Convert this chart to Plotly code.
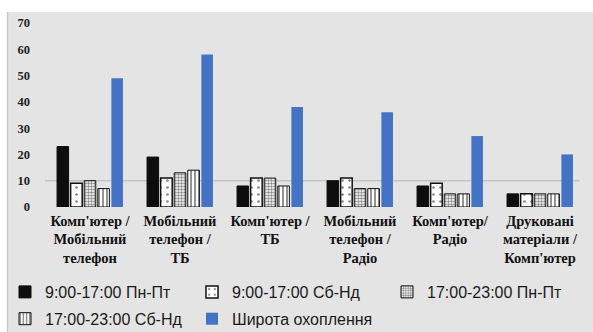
import plotly.graph_objects as go

# Device pairs and share of users for each time slot
categories = [
    "Комп'ютер /<br>Мобільний<br>телефон",
    "Мобільний<br>телефон /<br>ТБ",
    "Комп'ютер /<br>ТБ<br> ",
    "Мобільний<br>телефон /<br>Радіо",
    "Комп'ютер/<br>Радіо<br> ",
    "Друковані<br>матеріали /<br>Комп'ютер",
]
weekday_day = [23, 19, 8, 10, 8, 5]        # 9:00-17:00 Пн-Пт
weekend_day = [9, 11, 11, 11, 9, 5]        # 9:00-17:00 Сб-Нд
weekday_evening = [10, 13, 11, 7, 5, 5]    # 17:00-23:00 Пн-Пт
weekend_evening = [7, 14, 8, 7, 5, 5]      # 17:00-23:00 Сб-Нд
reach = [49, 58, 38, 36, 27, 20]           # Широта охоплення
y_ticks = [0, 10, 20, 30, 40, 50, 60, 70]

W, H = 593, 332
ML, MR, MT, MB = 45, 8, 23, 125
PW, PH = W - ML - MR, H - MT - MB
BG = "#e4e4e4"


def px_x(p):
    return (p - ML) / PW


def px_y(p):
    return (H - MB - p) / PH


fig = go.Figure()
fig.add_trace(go.Bar(
    x=categories, y=weekday_day, name="9:00-17:00 Пн-Пт",
    legend="legend", legendgroup="a",
    marker=dict(color="#0d0d0d", line=dict(color="#0d0d0d", width=1)),
))
fig.add_trace(go.Bar(
    x=categories, y=weekend_day, name="9:00-17:00 Сб-Нд",
    legend="legend2", legendgroup="b",
    marker=dict(color="white", line=dict(color="#111111", width=1.5),
                pattern=dict(shape=".", fgcolor="#111111", bgcolor="white",
                             size=7, solidity=0.12)),
))
fig.add_trace(go.Bar(
    x=categories, y=weekday_evening, name="17:00-23:00 Пн-Пт",
    legend="legend3", legendgroup="c",
    marker=dict(color="white", line=dict(color="#111111", width=1),
                pattern=dict(shape=".", fgcolor="#111111", bgcolor="white",
                             size=3, solidity=0.5)),
))
fig.add_trace(go.Bar(
    x=categories, y=weekend_evening, name="17:00-23:00 Сб-Нд",
    legend="legend", legendgroup="d",
    marker=dict(color="white", line=dict(color="#111111", width=1),
                pattern=dict(shape="|", fgcolor="#111111", bgcolor="white",
                             size=4, solidity=0.45)),
))
fig.add_trace(go.Bar(
    x=categories, y=reach, name="Широта охоплення",
    legend="legend2", legendgroup="e",
    marker=dict(color="#4472c4", line=dict(color="#4472c4", width=0)),
))

shapes = [
    # white strip above the chart area
    dict(type="rect", xref="paper", yref="paper", x0=-0.2, x1=1.2,
         y0=px_y(12), y1=1.5, fillcolor="white", line_width=0, layer="below"),
    # white strip on the left
    dict(type="rect", xref="paper", yref="paper", x0=-0.2, x1=px_x(7),
         y0=-1, y1=1.5, fillcolor="white", line_width=0, layer="below"),
    dict(type="line", xref="paper", yref="paper", x0=px_x(7.5), x1=px_x(7.5),
         y0=-1, y1=px_y(12), line=dict(color="#c9c9c9", width=1.5), layer="below"),
    # reference line at 10
    dict(type="line", xref="paper", yref="y", x0=0, x1=0.99, y0=10, y1=10,
         line=dict(color="#c3c3c3", width=1.5), layer="below"),
]

legend_font = dict(family="Liberation Sans", size=16, color="#1a1a1a")


def column_legend(left_px):
    return dict(
        orientation="v", x=px_x(left_px), xanchor="left",
        y=px_y(275), yanchor="top", tracegroupgap=3,
        font=legend_font, bgcolor="rgba(0,0,0,0)", traceorder="grouped",
    )


fig.update_layout(
    width=W, height=H,
    margin=dict(l=ML, r=MR, t=MT, b=MB, autoexpand=False),
    paper_bgcolor=BG, plot_bgcolor=BG,
    barmode="group", bargap=0.245, bargroupgap=0.15,
    shapes=shapes,
    showlegend=True,
    legend=column_legend(5),
    legend2=column_legend(192),
    legend3=column_legend(387),
    xaxis=dict(
        showgrid=False, showline=False, zeroline=False, ticks="",
        automargin=False, ticklabelstandoff=3,
        tickfont=dict(family="Liberation Serif", size=14.5, color="#111111", weight="bold"),
    ),
    yaxis=dict(
        range=[0, 70], tickvals=y_ticks, showgrid=False, zeroline=False,
        showline=False, ticks="", ticklabelstandoff=14, automargin=False,
        tickfont=dict(family="Liberation Serif", size=12.5, color="#222222", weight="bold"),
    ),
)

fig.write_html("out.html")
